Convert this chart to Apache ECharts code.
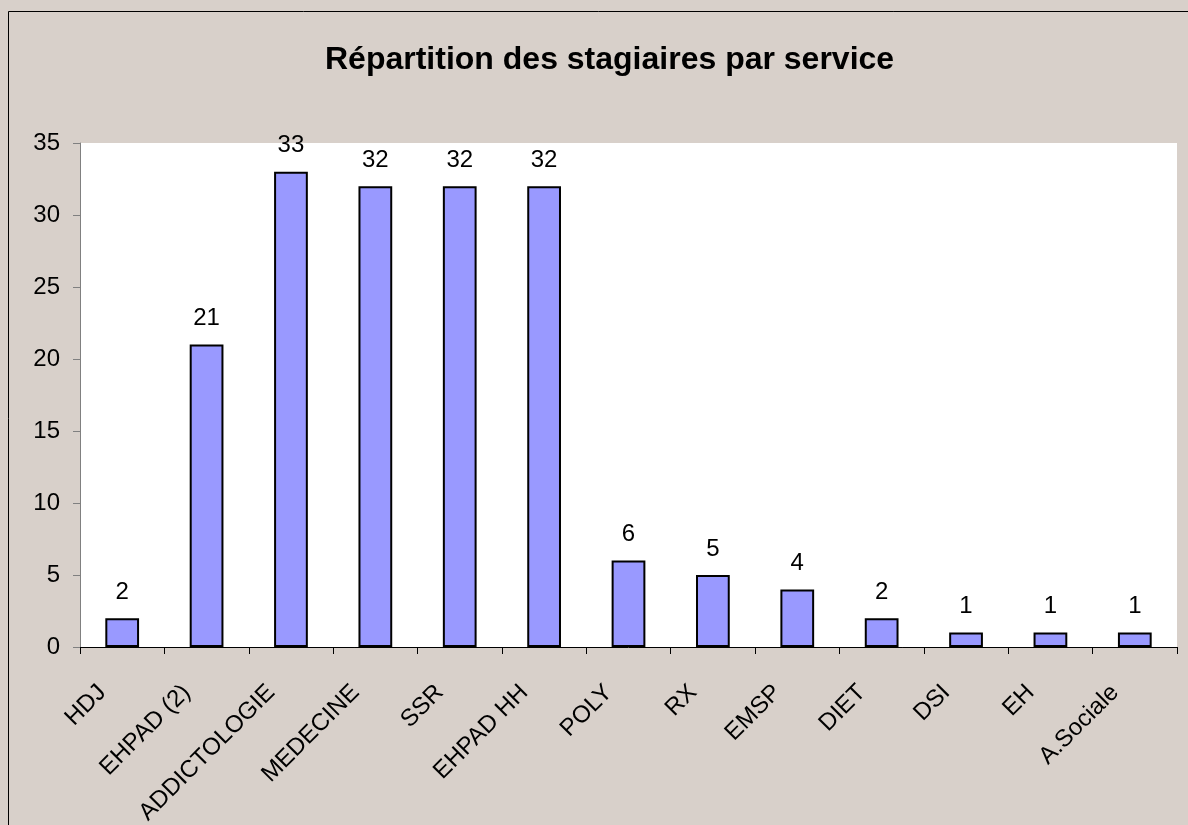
<!DOCTYPE html>
<html>
<head>
<meta charset="utf-8">
<script src="https://cdn.jsdelivr.net/npm/echarts@6/dist/echarts.min.js"></script>
<style>
  html, body { margin: 0; padding: 0; background: #fff; }
  #chart { width: 1188px; height: 825px; }
</style>
</head>
<body>
<div id="chart"></div>
<script>
// données
const services = ['HDJ', 'EHPAD (2)', 'ADDICTOLOGIE', 'MEDECINE', 'SSR', 'EHPAD HH', 'POLY', 'RX', 'EMSP', 'DIET', 'DSI', 'EH', 'A.Sociale'];
const stagiaires = [2, 21, 33, 32, 32, 32, 6, 5, 4, 2, 1, 1, 1];
const yTicks = [0, 5, 10, 15, 20, 25, 30, 35];

const chart = echarts.init(document.getElementById('chart'), null, { renderer: 'canvas' });

const font = "'Liberation Sans', Arial, sans-serif";

chart.setOption({
    backgroundColor: '#d8d0ca',
    animation: false,
    textStyle: { fontFamily: font },
    title: {
        text: 'Répartition des stagiaires par service',
        left: 320,
        top: 39,
        textStyle: { fontFamily: font, fontSize: 32, fontWeight: 'bold', color: '#000' }
    },
    graphic: [
        {
            type: 'rect',
            shape: { x: 8.5, y: 11.5, width: 1300, height: 900 },
            style: { fill: 'none', stroke: '#000', lineWidth: 1 },
            silent: true
        }
    ],
    grid: {
        left: 80,
        right: 11,
        top: 143,
        bottom: 178,
        show: true,
        backgroundColor: '#fff',
        borderWidth: 0,
        containLabel: false,
        outerBoundsMode: 'none'
    },
    xAxis: {
        type: 'category',
        data: services,
        axisLine: { lineStyle: { color: '#000', width: 1 } },
        axisTick: { show: true, alignWithLabel: false, length: 7, lineStyle: { color: '#000' } },
        axisLabel: {
            rotate: 45,
            interval: 0,
            color: '#000',
            fontSize: 24,
            fontFamily: font,
            margin: 22,
            padding: [0, 28, 0, 0]
        }
    },
    yAxis: {
        type: 'value',
        min: 0,
        max: yTicks[yTicks.length - 1],
        interval: 5,
        splitLine: { show: false },
        axisLine: { show: true, lineStyle: { color: '#808080', width: 1 } },
        axisTick: { show: true, length: 7, lineStyle: { color: '#808080' } },
        axisLabel: { color: '#000', fontSize: 24, fontFamily: font, margin: 20 }
    },
    series: [
        {
            type: 'bar',
            data: stagiaires,
            barWidth: '40%',
            itemStyle: { color: '#9999ff', borderColor: '#000', borderWidth: 2 },
            label: {
                show: true,
                position: 'top',
                distance: 14,
                color: '#000',
                fontSize: 24,
                fontFamily: font
            }
        }
    ]
});
</script>
</body>
</html>
